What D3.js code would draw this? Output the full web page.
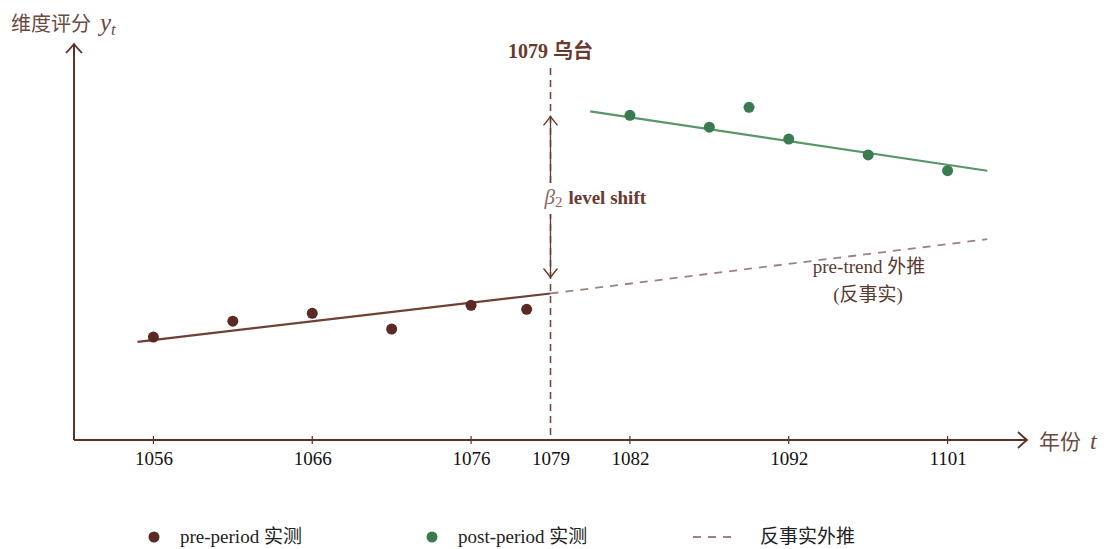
<!DOCTYPE html>
<html>
<head>
<meta charset="utf-8">
<script src="https://cdn.jsdelivr.net/npm/d3@7"></script>
<style>
  body { margin: 0; background: #fff; }
  svg text { font-family: "Liberation Serif", "Noto Sans CJK SC", serif; }
</style>
</head>
<body>
<div id="chart"></div>
<script>
// tick positions on the event-time axis and their year labels
var tickPos = [-5, -3, -1, 0, 1, 3, 5];
var tickLabels = ["1056", "1066", "1076", "1079", "1082", "1092", "1101"];

// observed scores
var preT = [-5, -4, -3, -2, -1, -0.3];
var preY = [2.6, 3.0, 3.2, 2.8, 3.4, 3.3];
var postT = [1, 2, 2.5, 3, 4, 5];
var postY = [8.2, 7.9, 8.4, 7.6, 7.2, 6.8];

// fitted lines (end points)
var preLineT = [-5.2, 0];
var preLineY = [2.48, 3.70];
var cfLineT = [0, 5.5];
var cfLineY = [3.70, 5.07];
var postLineT = [0.5, 5.5];
var postLineY = [8.30, 6.80];

// level shift at the break
var shiftY = [3.70, 8.45];

var brown = "#5b2a22", axisCol = "#5e3028", green = "#3b7b50", greenLine = "#5b9669",
    cfCol = "#9c8282", textCol = "#6b3a2f";

var svg = d3.select("#chart").append("svg")
    .attr("width", 1108)
    .attr("height", 549);

var x = d3.scaleLinear().domain([-6, 6]).range([74, 1027]);
var y = d3.scaleLinear().domain([0, 10]).range([440, 44]);

var line = d3.line().x(d => x(d[0])).y(d => y(d[1]));

// axes
svg.append("line")
    .attr("x1", x(-6)).attr("x2", x(-6))
    .attr("y1", y(0)).attr("y2", y(10) + 1)
    .attr("stroke", axisCol).attr("stroke-width", 2);
svg.append("line")
    .attr("x1", x(-6)).attr("x2", x(6) - 1)
    .attr("y1", y(0)).attr("y2", y(0))
    .attr("stroke", axisCol).attr("stroke-width", 2);

// arrow heads on axes
function chevron(cx, cy, angle, w, h) {
  return svg.append("path")
    .attr("d", "M" + (-w) + "," + h + " Q" + (-w * 0.3) + "," + (h * 0.35) + " 0,0 Q" + (w * 0.3) + "," + (h * 0.35) + " " + w + "," + h)
    .attr("transform", "translate(" + cx + "," + cy + ") rotate(" + angle + ")")
    .attr("fill", "none")
    .attr("stroke", axisCol)
    .attr("stroke-width", 1.8);
}
chevron(x(-6), y(10), 0, 8, 9);
chevron(x(6), y(0), 90, 8, 9);

// ticks
var xAxis = d3.axisBottom(x)
    .tickValues(tickPos)
    .tickSize(0)
    .tickFormat((d, i) => tickLabels[i]);
var gx = svg.append("g")
    .attr("transform", "translate(0," + y(0) + ")")
    .call(xAxis);
gx.select(".domain").remove();
gx.selectAll("text")
    .attr("y", 12)
    .attr("dy", "0.71em")
    .style("font-size", "19px")
    .style("font-family", "Liberation Serif")
    .attr("fill", "#111");
svg.selectAll(".tickmark")
    .data(tickPos.filter(d => d !== 0))
    .enter().append("line")
    .attr("x1", d => x(d)).attr("x2", d => x(d))
    .attr("y1", y(0) - 4).attr("y2", y(0) + 4)
    .attr("stroke", axisCol).attr("stroke-width", 1.2);

// break line at 1079
svg.append("line")
    .attr("x1", x(0)).attr("x2", x(0))
    .attr("y1", 68).attr("y2", y(0))
    .attr("stroke", "#7a4a40")
    .attr("stroke-width", 1.6)
    .attr("stroke-dasharray", "7,5");

svg.append("text")
    .attr("x", x(0)).attr("y", 58)
    .attr("text-anchor", "middle")
    .style("font-size", "20px")
    .style("font-weight", "bold")
    .attr("fill", textCol)
    .text("1079 乌台");

// counterfactual extrapolation
svg.append("path")
    .datum(d3.zip(cfLineT, cfLineY))
    .attr("d", line)
    .attr("fill", "none")
    .attr("stroke", cfCol)
    .attr("stroke-width", 1.8)
    .attr("stroke-dasharray", "8,7");

// pre trend
svg.append("path")
    .datum(d3.zip(preLineT, preLineY))
    .attr("d", line)
    .attr("fill", "none")
    .attr("stroke", "#6e4036")
    .attr("stroke-width", 2.2);

// post trend
svg.append("path")
    .datum(d3.zip(postLineT, postLineY))
    .attr("d", line)
    .attr("fill", "none")
    .attr("stroke", greenLine)
    .attr("stroke-width", 2.2);

// level shift arrow
var yTop = y(shiftY[1]) + 11, yBot = y(shiftY[0]) - 16;
svg.append("line")
    .attr("x1", x(0)).attr("x2", x(0))
    .attr("y1", yTop).attr("y2", yBot)
    .attr("stroke", "#6b3a30").attr("stroke-width", 1.3);
function arrowHead(cy, angle) {
  svg.append("path")
    .attr("d", "M-7,9 Q-2,3 0,0 Q2,3 7,9")
    .attr("transform", "translate(" + x(0) + "," + cy + ") rotate(" + angle + ")")
    .attr("fill", "none")
    .attr("stroke", "#6b3a30")
    .attr("stroke-width", 1.4);
}
arrowHead(yTop, 0);
arrowHead(yBot, 180);

svg.append("rect")
    .attr("x", x(0) - 8).attr("y", 183)
    .attr("width", 16).attr("height", 31)
    .attr("fill", "#fff");
var shiftLabel = svg.append("text")
    .attr("x", x(0) - 6).attr("y", 204)
    .attr("fill", textCol);
shiftLabel.append("tspan")
    .style("font-style", "italic")
    .style("font-size", "21px")
    .attr("fill", "#8a6a62")
    .text("β");
shiftLabel.append("tspan")
    .style("font-size", "15px")
    .attr("fill", "#8a6a62")
    .attr("dy", 3)
    .text("2");
shiftLabel.append("tspan")
    .attr("dy", -3)
    .attr("dx", 6)
    .style("font-size", "19px")
    .style("font-weight", "bold")
    .text("level shift");

// counterfactual note
svg.append("text")
    .attr("x", 869).attr("y", 273)
    .attr("text-anchor", "middle")
    .style("font-size", "19px")
    .attr("fill", "#5a3a30")
    .text("pre-trend 外推");
svg.append("text")
    .attr("x", 868).attr("y", 301)
    .attr("text-anchor", "middle")
    .style("font-size", "19px")
    .attr("fill", "#5a3a30")
    .text("(反事实)");

// points
svg.append("g")
  .selectAll("circle")
  .data(d3.zip(preT, preY))
  .enter().append("circle")
    .attr("cx", d => x(d[0]))
    .attr("cy", d => y(d[1]))
    .attr("r", 5.5)
    .attr("fill", brown);

svg.append("g")
  .selectAll("circle")
  .data(d3.zip(postT, postY))
  .enter().append("circle")
    .attr("cx", d => x(d[0]))
    .attr("cy", d => y(d[1]))
    .attr("r", 5.5)
    .attr("fill", green);

// axis titles
var yTitle = svg.append("text")
    .attr("x", 11).attr("y", 31)
    .attr("fill", "#6b4a42")
    .style("font-size", "20px");
yTitle.append("tspan").text("维度评分");
yTitle.append("tspan").attr("dx", 9).style("font-style", "italic").style("font-size", "25px").text("y");
yTitle.append("tspan").style("font-style", "italic").style("font-size", "17px").attr("dy", 4).text("t");

var xTitle = svg.append("text")
    .attr("x", 1039).attr("y", 449)
    .attr("fill", "#6b4a42")
    .style("font-size", "21px");
xTitle.append("tspan").text("年份");
xTitle.append("tspan").attr("dx", 9).style("font-style", "italic").style("font-size", "24px").text("t");

// legend
var legend = svg.append("g").attr("transform", "translate(0,537)");
legend.append("circle").attr("cx", 154).attr("cy", 0).attr("r", 5.5).attr("fill", brown);
legend.append("text").attr("x", 180).attr("y", 6).style("font-size", "19px").attr("fill", "#222").text("pre-period 实测");
legend.append("circle").attr("cx", 432).attr("cy", 0).attr("r", 5.5).attr("fill", green);
legend.append("text").attr("x", 458).attr("y", 6).style("font-size", "19px").attr("fill", "#222").text("post-period 实测");
legend.append("line").attr("x1", 693).attr("x2", 736).attr("y1", 0).attr("y2", 0)
    .attr("stroke", cfCol).attr("stroke-width", 1.8).attr("stroke-dasharray", "8,7");
legend.append("text").attr("x", 760).attr("y", 6).style("font-size", "19px").attr("fill", "#222").text("反事实外推");
</script>
</body>
</html>
